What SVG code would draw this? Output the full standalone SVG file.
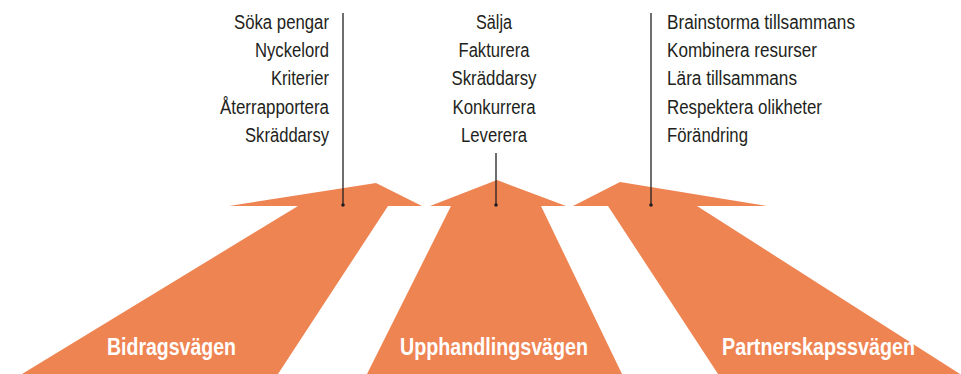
<svg xmlns="http://www.w3.org/2000/svg" width="961" height="374" viewBox="0 0 961 374">
<style>
.arrow{fill:#EF8453}
.item{font-family:"Liberation Sans",Arial,sans-serif;font-size:19.5px;fill:#231F20}
.lbl{font-family:"Liberation Sans",Arial,sans-serif;font-size:23px;font-weight:bold;fill:#FFFFFF}
.lead{stroke:#231F20;stroke-width:1.3;fill:none}
.dot{fill:#231F20}
</style>
<rect width="961" height="374" fill="#FFFFFF"/>
<g id="bidrag">
<polygon class="arrow" points="22,374 298,206 229,206 376,183 422,206 388,206 278,374"/>
<text class="lbl" x="107" y="355" textLength="129" lengthAdjust="spacingAndGlyphs">Bidragsvägen</text>
<g class="item" text-anchor="end">
<text x="329" y="29" textLength="95" lengthAdjust="spacingAndGlyphs">Söka pengar</text>
<text x="329" y="57" textLength="74" lengthAdjust="spacingAndGlyphs">Nyckelord</text>
<text x="329" y="85" textLength="58" lengthAdjust="spacingAndGlyphs">Kriterier</text>
<text x="329" y="114" textLength="109" lengthAdjust="spacingAndGlyphs">Återrapportera</text>
<text x="329" y="142" textLength="84" lengthAdjust="spacingAndGlyphs">Skräddarsy</text>
</g>
</g>
<g id="upphandling">
<polygon class="arrow" points="367,374 451,206 430,206 497,180 566,206 541,206 622,374"/>
<text class="lbl" x="400" y="355" textLength="188" lengthAdjust="spacingAndGlyphs">Upphandlingsvägen</text>
<g class="item" text-anchor="middle">
<text x="494" y="29" textLength="36" lengthAdjust="spacingAndGlyphs">Sälja</text>
<text x="494" y="57" textLength="71" lengthAdjust="spacingAndGlyphs">Fakturera</text>
<text x="494" y="85" textLength="85" lengthAdjust="spacingAndGlyphs">Skräddarsy</text>
<text x="494" y="114" textLength="83" lengthAdjust="spacingAndGlyphs">Konkurrera</text>
<text x="494" y="142" textLength="66" lengthAdjust="spacingAndGlyphs">Leverera</text>
</g>
</g>
<g id="partnerskap">
<polygon class="arrow" points="718,374 608,206 573,206 620,182 767,206 697,206 960,374"/>
<text class="lbl" x="722" y="355" textLength="193" lengthAdjust="spacingAndGlyphs">Partnerskapssvägen</text>
<g class="item">
<text x="667" y="29" textLength="188" lengthAdjust="spacingAndGlyphs">Brainstorma tillsammans</text>
<text x="667" y="57" textLength="150" lengthAdjust="spacingAndGlyphs">Kombinera resurser</text>
<text x="667" y="85" textLength="130" lengthAdjust="spacingAndGlyphs">Lära tillsammans</text>
<text x="667" y="114" textLength="155" lengthAdjust="spacingAndGlyphs">Respektera olikheter</text>
<text x="667" y="142" textLength="81" lengthAdjust="spacingAndGlyphs">Förändring</text>
</g>
</g>
<g id="connectors">
<line class="lead" x1="343" y1="13" x2="343" y2="205"/>
<circle class="dot" cx="343" cy="205" r="1.8"/>
<line class="lead" x1="496" y1="153" x2="496" y2="205"/>
<circle class="dot" cx="496" cy="205" r="1.8"/>
<line class="lead" x1="651" y1="13" x2="651" y2="205"/>
<circle class="dot" cx="651" cy="205" r="1.8"/>
</g>
</svg>
